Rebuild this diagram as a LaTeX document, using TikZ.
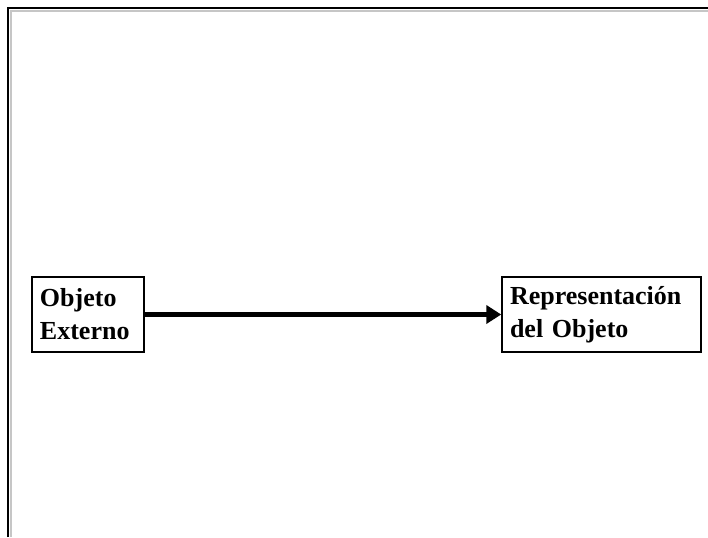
\documentclass[tikz,border=0pt]{standalone}
\usepackage{fontspec}
\setmainfont{Liberation Serif}
\usetikzlibrary{arrows.meta}
\tikzset{
  conceptbox/.style={draw=black, line width=1.1pt, align=left, inner xsep=6pt, inner ysep=0pt,
    minimum height=56.25pt, font=\bfseries\fontsize{19.5pt}{24.75pt}\selectfont},
  flowarrow/.style={line width=4pt, -{Triangle[length=11.25pt, width=13.5pt]}}
}
\begin{document}
\begin{tikzpicture}[x=0.75pt, y=-0.75pt]
\useasboundingbox (0,0) rectangle (708,537);
\fill[white] (0,0) rectangle (708,537);
% frame
\draw[black, line width=1.5pt] (8,537) -- (8,8) -- (708,8);
\draw[gray!45, line width=1.5pt] (11,537) -- (11,11) -- (708,11);
% boxes
\node[conceptbox, text width=72pt, minimum width=84pt] (ext) at (88,314.5) {Objeto\\Externo};
\node[conceptbox, text width=137.25pt, minimum width=149.25pt] (rep) at (601.5,314.5) {Representación\\del Objeto};
\draw[flowarrow] (ext.east) -- (rep.west);
\end{tikzpicture}
\end{document}
